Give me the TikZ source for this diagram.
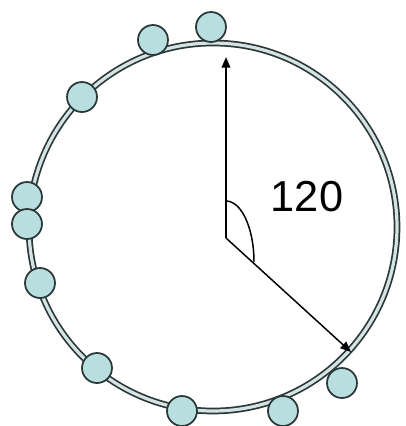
\documentclass[tikz,border=0pt]{standalone}
\usepackage{fontspec}
\setmainfont{Liberation Sans}
\usetikzlibrary{arrows.meta}
\definecolor{ringdark}{HTML}{2C3838}
\definecolor{ringfill}{HTML}{D4E4E4}
\definecolor{beadfill}{HTML}{B8DEDF}
\definecolor{beadline}{HTML}{2A3838}
\tikzset{
  bead/.style={circle, draw=beadline, fill=beadfill, line width=1.3pt, minimum size=22.5pt, inner sep=0pt},
  ring/.style={draw=ringdark, line width=1.3pt, double=ringfill, double distance=2.4pt},
  radiusarrow/.style={line width=1.1pt, -{Triangle[length=8pt,width=6.5pt]}},
  anglearc/.style={line width=1.1pt}
}
\begin{document}
\begin{tikzpicture}[x=0.75pt,y=-0.75pt]
\useasboundingbox (0,0) rectangle (405,426);
\coordinate (o) at (213,227);
\draw[ring] (o) circle[radius=184];
\coordinate (c) at (226,238);
\coordinate (t1) at (226,57);
\coordinate (t2) at (351,352);
\draw[radiusarrow] (c) -- (t1);
\draw[radiusarrow] (c) -- (t2);
\draw[anglearc] (226,201) arc[start angle=-90, end angle=0, x radius=28, y radius=61];
\node[font=\fontsize{32.5pt}{36pt}\selectfont] (lbl) at (307,197) {120};
\node[bead] (b1) at (211,27) {};
\node[bead] (b2) at (153,40) {};
\node[bead] (b3) at (82,97) {};
\node[bead] (b4) at (27,197) {};
\node[bead] (b5) at (27,224) {};
\node[bead] (b6) at (40,283) {};
\node[bead] (b7) at (97,368) {};
\node[bead] (b8) at (182,411) {};
\node[bead] (b9) at (283,411) {};
\node[bead] (b10) at (342,383) {};
\end{tikzpicture}
\end{document}
